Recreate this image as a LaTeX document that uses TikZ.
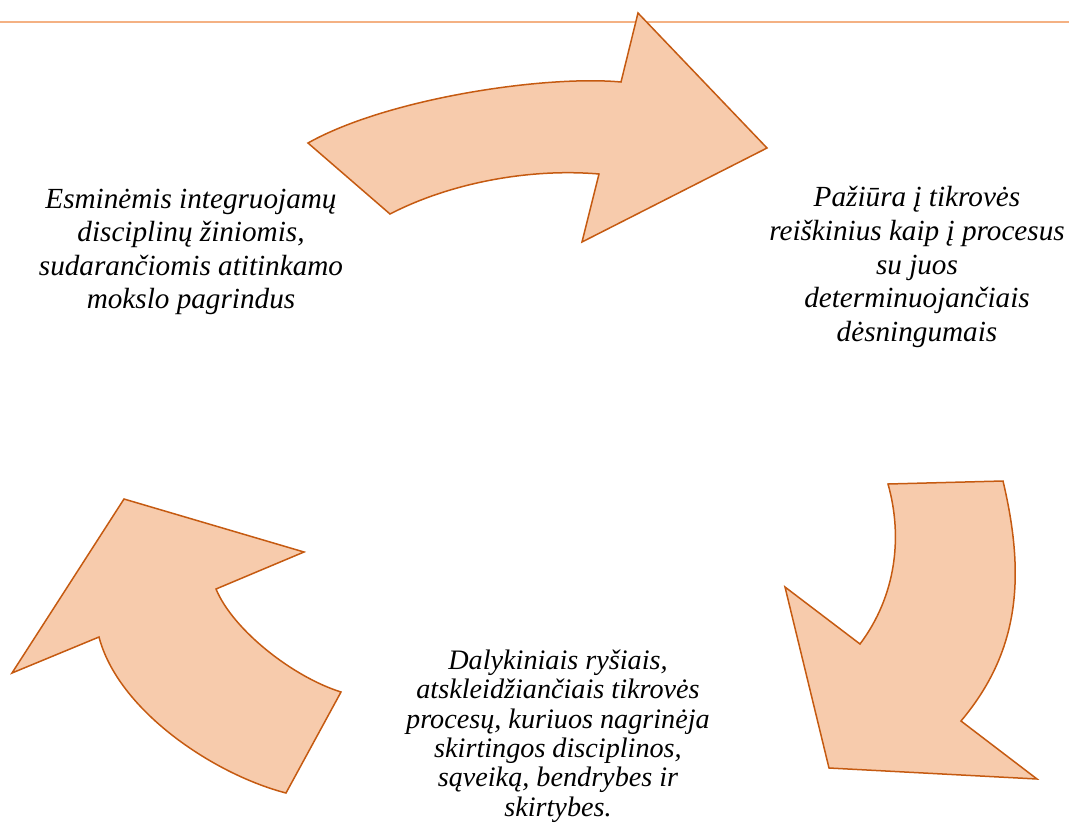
\documentclass[tikz,border=0pt]{standalone}
\usepackage{fontspec}
\setmainfont{Liberation Serif}
\definecolor{arrowfill}{HTML}{F7CBAC}
\definecolor{arrowline}{HTML}{C55A11}
\definecolor{headline}{HTML}{F4B183}
\begin{document}
\begin{tikzpicture}[x=1pt,y=-1pt,
	blockarrow/.style={fill=arrowfill,draw=arrowline,line width=1.5pt,line join=miter},
	label/.style={align=center,inner sep=0pt,font=\itshape\fontsize{29.2}{33.6}\selectfont},
	smalllabel/.style={label,font=\itshape\fontsize{28.2}{29.4}\selectfont}]
	\useasboundingbox (0,0) rectangle (1069,823);
	\draw [headline,line width=2pt] (0,21.5) -- (1069,21.5);
	% top arrow
	\draw [blockarrow] (308,143) .. controls (388,98) and (546,75) .. (621,82)
		-- (638,13) -- (767,148) -- (582,242) -- (599,174)
		.. controls (529,168) and (450,183) .. (390,214) -- cycle;
	% right arrow
	\draw [blockarrow] (888,484) -- (1003,481)
		.. controls (1026,578) and (1019,652) .. (961,721)
		-- (1037,779) -- (829,768) -- (785,587) -- (860,644)
		.. controls (896,596) and (903,537) .. (888,484) -- cycle;
	% left arrow
	\draw [blockarrow] (124,499) -- (304,552) -- (216,589)
		.. controls (233,630) and (293,677) .. (341,692)
		-- (286,793) .. controls (213,774) and (118,710) .. (99,637)
		-- (12,673) -- cycle;
	\node (know) [label] at (191,252) {Esminėmis integruojamų\\disciplinų žiniomis,\\sudarančiomis atitinkamo\\mokslo pagrindus};
	\node (view) [label] at (917,267) {Pažiūra į tikrovės\\reiškinius kaip į procesus\\su juos\\determinuojančiais\\dėsningumais};
	\node (links) [smalllabel] at (558,736) {Dalykiniais ryšiais,\\atskleidžiančiais tikrovės\\procesų, kuriuos nagrinėja\\skirtingos disciplinos,\\sąveiką, bendrybes ir\\skirtybes.};
\end{tikzpicture}
\end{document}
